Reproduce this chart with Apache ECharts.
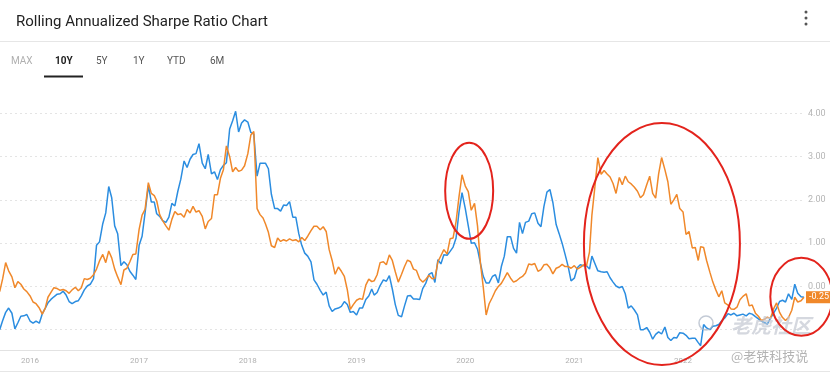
<!DOCTYPE html>
<html><head><meta charset="utf-8">
<script src="https://cdn.jsdelivr.net/npm/echarts@6/dist/echarts.min.js"></script>
<style>html,body{margin:0;padding:0;background:#fff}#c{width:830px;height:374px}</style>
</head><body><div id="c"></div>
<script>
const dates = `
2015-09-21 2015-10-01 2015-10-11 2015-10-21 2015-11-01 2015-11-11 2015-11-21 2015-12-01 2015-12-11 2015-12-21
2016-01-01 2016-01-11 2016-01-21 2016-02-01 2016-02-11 2016-02-21 2016-03-01 2016-03-11 2016-03-21 2016-04-01 2016-04-11 2016-04-21 2016-05-01 2016-05-11 2016-05-21 2016-06-01 2016-06-11 2016-06-21 2016-07-01 2016-07-11 2016-07-21 2016-08-01 2016-08-11 2016-08-21 2016-09-01 2016-09-11 2016-09-21 2016-10-01 2016-10-11 2016-10-21 2016-11-01 2016-11-11 2016-11-21 2016-12-01 2016-12-11 2016-12-21
2017-01-01 2017-01-11 2017-01-21 2017-02-01 2017-02-11 2017-02-21 2017-03-01 2017-03-11 2017-03-21 2017-04-01 2017-04-11 2017-04-21 2017-05-01 2017-05-11 2017-05-21 2017-06-01 2017-06-11 2017-06-21 2017-07-01 2017-07-11 2017-07-21 2017-08-01 2017-08-11 2017-08-21 2017-09-01 2017-09-11 2017-09-21 2017-10-01 2017-10-11 2017-10-21 2017-11-01 2017-11-11 2017-11-21 2017-12-01 2017-12-11 2017-12-21
2018-01-01 2018-01-11 2018-01-21 2018-02-01 2018-02-11 2018-02-21 2018-03-01 2018-03-11 2018-03-21 2018-04-01 2018-04-11 2018-04-21 2018-05-01 2018-05-11 2018-05-21 2018-06-01 2018-06-11 2018-06-21 2018-07-01 2018-07-11 2018-07-21 2018-08-01 2018-08-11 2018-08-21 2018-09-01 2018-09-11 2018-09-21 2018-10-01 2018-10-11 2018-10-21 2018-11-01 2018-11-11 2018-11-21 2018-12-01 2018-12-11 2018-12-21
2019-01-01 2019-01-11 2019-01-21 2019-02-01 2019-02-11 2019-02-21 2019-03-01 2019-03-11 2019-03-21 2019-04-01 2019-04-11 2019-04-21 2019-05-01 2019-05-11 2019-05-21 2019-06-01 2019-06-11 2019-06-21 2019-07-01 2019-07-11 2019-07-21 2019-08-01 2019-08-11 2019-08-21 2019-09-01 2019-09-11 2019-09-21 2019-10-01 2019-10-11 2019-10-21 2019-11-01 2019-11-11 2019-11-21 2019-12-01 2019-12-11 2019-12-21
2020-01-01 2020-01-11 2020-01-21 2020-02-01 2020-02-11 2020-02-21 2020-03-01 2020-03-11 2020-03-21 2020-04-01 2020-04-11 2020-04-21 2020-05-01 2020-05-11 2020-05-21 2020-06-01 2020-06-11 2020-06-21 2020-07-01 2020-07-11 2020-07-21 2020-08-01 2020-08-11 2020-08-21 2020-09-01 2020-09-11 2020-09-21 2020-10-01 2020-10-11 2020-10-21 2020-11-01 2020-11-11 2020-11-21 2020-12-01 2020-12-11 2020-12-21
2021-01-01 2021-01-11 2021-01-21 2021-02-01 2021-02-11 2021-02-21 2021-03-01 2021-03-11 2021-03-21 2021-04-01 2021-04-11 2021-04-21 2021-05-01 2021-05-11 2021-05-21 2021-06-01 2021-06-11 2021-06-21 2021-07-01 2021-07-11 2021-07-21 2021-08-01 2021-08-11 2021-08-21 2021-09-01 2021-09-11 2021-09-21 2021-10-01 2021-10-11 2021-10-21 2021-11-01 2021-11-11 2021-11-21 2021-12-01 2021-12-11 2021-12-21
2022-01-01 2022-01-11 2022-01-21 2022-02-01 2022-02-11 2022-02-21 2022-03-01 2022-03-11 2022-03-21 2022-04-01 2022-04-11 2022-04-21 2022-05-01 2022-05-11 2022-05-21 2022-06-01 2022-06-11 2022-06-21 2022-07-01 2022-07-11 2022-07-21 2022-08-01 2022-08-11 2022-08-21 2022-09-01 2022-09-11 2022-09-21 2022-10-01 2022-10-11 2022-10-21 2022-11-01 2022-11-11 2022-11-21 2022-12-01 2022-12-11 2022-12-21
2023-01-01 2023-01-11 2023-01-21 2023-02-01 2023-02-11
`.trim().split(/\s+/);

// blue series
const blueValues = [
 -1.00,
 -0.79,-0.60,-0.50, -0.62,-0.98,-0.84, -0.69,-0.68,-0.65,
 -0.80,-0.85,-0.80, -0.85,-0.63,-0.50, -0.38,-0.30,-0.24, -0.18,-0.17,-0.11, -0.20,-0.35,-0.40, -0.35,-0.33,-0.22,
 -0.08,0.01,0.05, 0.18,0.95,1.03, 1.45,1.70,2.31, 2.05,1.40,1.22, 0.48,0.57,0.50, 0.35,0.26,0.16,
 0.95,1.16,1.70, 2.33,1.95,1.95, 1.68,1.62,1.52, 1.48,1.60,1.92, 1.86,2.20,2.48, 2.90,2.75,2.94,
 3.05,3.07,3.30, 2.85,2.72,3.05, 2.60,2.65,2.47, 2.70,2.80,2.86, 3.64,3.83,4.05, 3.57,3.78,3.85,
 3.80,3.56,3.52, 2.55,2.85,2.85, 2.85,2.72,2.13, 1.80,1.80,1.74, 1.88,1.87,1.96, 1.60,1.60,1.22,
 0.95,0.77,0.70, 0.57,0.15,0.05, -0.09,-0.20,-0.13, -0.45,-0.58,-0.52, -0.50,-0.46,-0.35, -0.42,-0.60,-0.58,
 -0.66,-0.50,-0.50, -0.30,-0.22,-0.06, -0.20,-0.14,0.02, 0.15,0.12,0.25, -0.06,-0.42,-0.67, -0.70,-0.45,-0.22,
 -0.21,-0.29,-0.29, -0.30,-0.05,0.07, 0.28,0.32,0.09, 0.62,0.52,0.73, 0.72,0.81,0.91, 1.12,1.73,2.17,
 1.80,1.40,1.00, 1.01,0.86,0.53, 0.24,0.08,0.08, 0.23,0.27,0.08, 0.46,0.70,1.15, 1.15,0.88,0.77,
 1.48,1.22,1.48, 1.51,1.68,1.70, 1.46,1.38,1.85, 2.18,2.24,1.94, 1.43,1.22,1.00, 0.74,0.47,0.13,
 0.19,0.43,0.50, 0.48,0.48,0.40, 0.70,0.53,0.36, 0.34,0.33,0.34, 0.20,0.10,0.01, -0.03,0.00,-0.17,
 -0.50,-0.45,-0.54, -0.66,-1.00,-1.00, -0.95,-1.06,-1.22, -1.11,-1.05,-1.10, -0.94,-1.18,-1.25, -1.18,-1.19,-1.07,
 -1.08,-1.13,-1.21, -1.20,-1.20,-1.30, -1.37,-0.88,-0.96, -1.00,-0.92,-0.91, -0.88,-0.79,-0.73, -0.63,-0.66,-0.62,
 -0.68,-0.66,-0.64, -0.68,-0.62,-0.64, -0.70,-0.75,-0.80, -0.84,-0.87,-0.74, -0.62,-0.50,-0.35, -0.32,-0.36,-0.17,
 -0.30,0.05,-0.16, -0.24,-0.25
];

// orange series
const orangeValues = [
 -0.12,
 0.18,0.55,0.36, 0.22,-0.03,0.11, 0.05,-0.06,-0.12,
 -0.22,-0.36,-0.40, -0.50,-0.64,-0.50, -0.25,-0.14,-0.03, -0.05,-0.09,-0.07, -0.10,-0.16,-0.08, -0.02,-0.10,-0.03,
 0.18,0.16,0.19, 0.27,0.40,0.59, 0.74,0.55,0.82, 0.66,0.40,0.22, 0.04,0.38,0.42, 0.57,0.74,0.75,
 1.32,1.65,1.78, 2.40,2.15,2.10, 1.98,1.66,1.52, 1.40,1.30,1.55, 1.73,1.66,1.68, 1.60,1.78,1.70,
 1.85,1.72,1.75, 1.62,1.33,1.50, 1.57,2.12,2.12, 2.50,2.70,3.25, 3.00,2.65,2.75, 2.66,2.69,2.79,
 3.07,3.50,3.58, 1.80,1.66,1.58, 1.45,1.25,0.94, 0.90,1.12,1.04, 1.08,1.05,1.10, 1.06,1.08,1.03,
 1.13,1.06,1.16, 1.29,1.39,1.39, 1.31,1.38,1.27, 0.85,0.60,0.28, 0.45,0.35,0.23, -0.08,-0.53,-0.42,
 -0.32,-0.28,-0.30, 0.03,0.17,0.11, 0.13,0.27,0.55, 0.57,0.50,0.73, 0.60,0.34,0.10, 0.28,0.46,0.61,
 0.57,0.40,0.37, 0.17,0.10,0.16, 0.26,0.18,0.19, 0.57,0.71,0.85, 0.75,1.10,1.12, 1.50,2.08,2.58,
 2.32,2.19,1.76, 1.92,1.40,0.52, 0.00,-0.66,-0.40, -0.25,-0.10,0.00, 0.07,0.19,0.32, 0.19,0.10,0.13,
 0.19,0.23,0.31, 0.52,0.50,0.53, 0.35,0.39,0.50, 0.51,0.43,0.29, 0.42,0.45,0.51, 0.46,0.46,0.42,
 0.48,0.40,0.44, 0.50,0.48,0.80, 1.65,2.30,2.98, 2.59,2.68,2.60, 2.53,2.38,2.15, 2.52,2.35,2.55,
 2.42,2.37,2.30, 2.20,2.05,2.12, 2.35,2.55,2.15, 2.04,2.60,2.98, 2.70,2.42,1.90, 2.00,2.13,1.80,
 1.72,1.20,1.27, 0.89,0.90,0.60, 0.92,0.90,0.60, 0.33,0.10,-0.08, -0.24,-0.10,-0.38, -0.43,-0.52,-0.53,
 -0.48,-0.31,-0.23, -0.17,-0.45,-0.43, -0.62,-0.69,-0.79, -0.76,-0.71,-0.74, -0.52,-0.38,-0.60, -0.72,-0.79,-0.72,
 -0.55,-0.25,-0.36, -0.33,-0.25
];

const yearTicks = ['2016-01-01','2017-01-01','2018-01-01','2019-01-01','2020-01-01','2021-01-01','2022-01-01'];
const yTicks = [-1, 0, 1, 2, 3, 4];
const axisStart = '2015-09-22';
const tabs = ['MAX', '10Y', '5Y', '1Y', 'YTD', '6M'];
// annotation circles: [date, value] centres
const circleCentres = [['2020-01-14', 2.21], ['2021-10-22', 0.98], ['2023-02-02', -0.24]];

const P = s => echarts.number.parseDate(s).getTime();
const BLUE = '#2b8de0', ORANGE = '#f0882a';

const chart = echarts.init(document.getElementById('c'), null, {renderer: 'canvas'});
const font = "Roboto, 'Noto Sans', 'Liberation Sans', sans-serif";
const tabX = [11, 55, 96, 133, 167, 210];
const times = dates.map(P);

const option = {
  animation: false,
  backgroundColor: '#fff',
  textStyle: {fontFamily: font},
  title: {text: 'Rolling Annualized Sharpe Ratio Chart', left: 11, top: 10,
    textStyle: {fontSize: 15, fontWeight: 'normal', color: '#222', fontFamily: font}},
  grid: {left: 0, right: 26, top: 100, bottom: 24, containLabel: false},
  xAxis: {
    type: 'value', min: P(axisStart), max: times[times.length - 1], scale: true,
    axisLine: {show: true, onZero: false, lineStyle: {color: '#e2e2e2', width: 1}},
    axisTick: {show: false, customValues: yearTicks.map(P)},
    splitLine: {show: false},
    axisLabel: {customValues: yearTicks.map(P), formatter: v => String(new Date(v).getFullYear()),
      color: '#b0b0b0', fontSize: 8, margin: 7, fontFamily: font}
  },
  yAxis: {
    type: 'value', position: 'right', min: -1.47, max: 4.31,
    axisLine: {show: false}, axisTick: {show: false, customValues: yTicks},
    splitLine: {show: true, lineStyle: {color: '#e4e4e4', type: [2, 3], width: 1}},
    axisLabel: {customValues: yTicks, formatter: v => v < 0 ? '' : v.toFixed(2),
      color: '#b5b5b5', fontSize: 9, margin: 4, fontFamily: font}
  },
  series: [
    {type: 'line', name: 'blue', data: times.map((t, i) => [t, blueValues[i]]), showSymbol: false,
      lineStyle: {color: BLUE, width: 1.5}, itemStyle: {color: BLUE}, z: 3},
    {type: 'line', name: 'orange', data: times.map((t, i) => [t, orangeValues[i]]), showSymbol: false,
      lineStyle: {color: ORANGE, width: 1.5}, itemStyle: {color: ORANGE}, z: 4,
      endLabel: {show: true, formatter: p => p.value[1].toFixed(2), backgroundColor: ORANGE, color: '#fff',
        fontSize: 9, padding: [2, 3, 1, 3], distance: 2, fontFamily: font}}
  ]
};
chart.setOption(option);

const g = [];
[12, 18, 24].forEach(y => g.push({type: 'circle', shape: {cx: 806, cy: y, r: 1.5}, style: {fill: '#555'}}));
g.push({type: 'rect', shape: {x: 0, y: 41, width: 830, height: 1}, style: {fill: '#e6e6e6'}});
g.push({type: 'rect', shape: {x: 0, y: 371, width: 830, height: 1}, style: {fill: '#e6e6e6'}});
tabs.forEach((t, i) => g.push({type: 'text', x: tabX[i], y: 61,
  style: {text: t, fontSize: 10, fontFamily: font, fontWeight: i === 1 ? 'bold' : 'normal',
    fill: i === 0 ? '#b0b0b0' : (i === 1 ? '#222' : '#555'), verticalAlign: 'middle'}}));
g.push({type: 'rect', shape: {x: 44, y: 75.5, width: 39, height: 2}, style: {fill: '#222'}});
const radii = [[24, 48], [78, 121], [31, 39]];
circleCentres.forEach((c, i) => {
  const p = chart.convertToPixel({gridIndex: 0}, [P(c[0]), c[1]]);
  if (p) g.push({type: 'ellipse', z: 100, shape: {cx: p[0], cy: p[1], rx: radii[i][0], ry: radii[i][1]},
    style: {fill: 'none', stroke: '#e3231c', lineWidth: 2}});
});
g.push({type: 'circle', z: 90, shape: {cx: 706, cy: 323, r: 7}, style: {fill: 'none', stroke: 'rgba(170,180,195,0.7)', lineWidth: 1.5}});
g.push({type: 'text', z: 90, x: 731, y: 325, style: {text: '老虎社区', fontSize: 20, fontStyle: 'italic', fontWeight: 'bold',
  fontFamily: "'Noto Sans CJK SC', sans-serif", fill: 'rgba(195,200,210,0.7)', verticalAlign: 'middle'}});
g.push({type: 'text', z: 90, x: 731, y: 356, style: {text: '@老铁科技说', fontSize: 13,
  fontFamily: "'Noto Sans CJK SC', sans-serif", fill: 'rgba(160,160,160,0.8)', verticalAlign: 'middle'}});
chart.setOption({graphic: g});
</script></body></html>
